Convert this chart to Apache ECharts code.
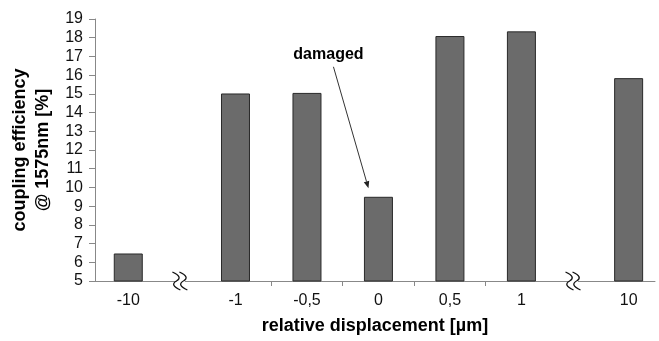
<!DOCTYPE html>
<html>
<head>
<meta charset="utf-8">
<script src="https://cdn.jsdelivr.net/npm/echarts@6/dist/echarts.min.js"></script>
<style>html,body{margin:0;padding:0;background:#fff}#c{width:659px;height:341px}</style>
</head>
<body>
<div id="c"></div>
<script>
// ---- data ----
const categories = ['-10', '-1', '-0,5', '0', '0,5', '1', '10'];
const efficiency = [6.47, 15.02, 15.05, 9.5, 18.09, 18.34, 15.84];
const yMin = 5, yMax = 19, yStep = 1;
// blank slots placed after each category (layout of the axis)
const spacersAfter = [2, 1, 1, 1, 1, 2, 0];
const annotationText = 'damaged';
const annotatedCategory = '0';

// ---- build slot axis ----
const slotLabels = [], slotValues = [];
categories.forEach((c, i) => {
  slotLabels.push(c); slotValues.push(efficiency[i]);
  for (let k = 0; k < spacersAfter[i]; k++) { slotLabels.push(''); slotValues.push(null); }
});
const isTickSlot = i => slotLabels[i] === '' && i > 0 && i < slotLabels.length - 1 &&
  slotLabels[i - 1] !== '' && slotLabels[i + 1] !== '';

const FONT = 'Liberation Sans, Arial, sans-serif';
const AX = '#888';
const chart = echarts.init(document.getElementById('c'), null, {renderer: 'canvas'});
chart.setOption({
  animation: false,
  grid: [
    {left: 95, right: 4, top: 19, bottom: 60},
    {left: 110.4, right: 12.5, top: 19, bottom: 60}
  ],
  xAxis: [
    {gridIndex: 0, type: 'value', min: 0, max: 1,
     axisLine: {show: true, lineStyle: {color: AX, width: 1}},
     axisTick: {show: false}, axisLabel: {show: false}, splitLine: {show: false},
     name: 'relative displacement [µm]', nameLocation: 'middle', nameGap: 36,
     nameTextStyle: {fontFamily: FONT, fontSize: 18, fontWeight: 'bold', color: '#000'}},
    {gridIndex: 1, type: 'category', data: slotLabels, boundaryGap: true,
     axisLine: {show: false},
     axisTick: {show: true, alignWithLabel: true, length: 5, interval: (i) => isTickSlot(i),
                lineStyle: {color: AX}},
     axisLabel: {interval: 0, margin: 12, fontFamily: FONT, fontSize: 16, color: '#111'},
     splitLine: {show: false}}
  ],
  yAxis: [
    {gridIndex: 0, type: 'value', min: yMin, max: yMax, interval: yStep,
     axisLine: {show: true, lineStyle: {color: AX, width: 1}},
     axisTick: {show: true, length: 6, lineStyle: {color: AX}},
     axisLabel: {margin: 12, fontFamily: FONT, fontSize: 16, color: '#111'},
     splitLine: {show: false},
     name: 'coupling efficiency\n@ 1575nm [%]', nameLocation: 'middle', nameGap: 40, nameRotate: 90,
     nameTextStyle: {fontFamily: FONT, fontSize: 18, fontWeight: 'bold', color: '#000', lineHeight: 23}},
    {gridIndex: 1, type: 'value', min: yMin, max: yMax, interval: yStep, show: false}
  ],
  series: [{
    type: 'bar', xAxisIndex: 1, yAxisIndex: 1, data: slotValues, barWidth: 29,
    itemStyle: {color: '#6b6b6b', borderColor: '#2a2a2a', borderWidth: 1}
  }]
});

// ---- decorations: axis breaks and annotation ----
function px(idx, val) { return chart.convertToPixel({seriesIndex: 0}, [idx, val]); }
const baseY = px(0, yMin)[1];
const graphics = [];
function addBreak(cx) {
  graphics.push({type: 'rect', shape: {x: cx - 3, y: baseY - 2, width: 8, height: 4},
                 style: {fill: '#fff'}, z: 100});
  [-3, 4].forEach(dx => {
    const x0 = cx + dx - 0.5, y0 = baseY;
    graphics.push({type: 'bezierCurve', shape: {x1: x0 - 4, y1: y0 - 9, cpx1: x0 + 7, cpy1: y0 - 4, x2: x0, y2: y0},
                   style: {fill: null, stroke: '#111', lineWidth: 1.3}, z: 101});
    graphics.push({type: 'bezierCurve', shape: {x1: x0, y1: y0, cpx1: x0 - 7, cpy1: y0 + 4, x2: x0 + 4, y2: y0 + 9},
                   style: {fill: null, stroke: '#111', lineWidth: 1.3}, z: 101});
  });
}
let pos = 0; const slotIdx = [];
categories.forEach((c, i) => { slotIdx.push(pos); pos += 1 + spacersAfter[i]; });
categories.forEach((c, i) => {
  if (spacersAfter[i] >= 2) {
    const a = px(slotIdx[i], yMin)[0], b = px(slotIdx[i + 1], yMin)[0];
    addBreak((a + b) / 2 - 2);
  }
});
// annotation arrow to the damaged sample
const ai = categories.indexOf(annotatedCategory);
const anchorPt = px(slotIdx[ai], efficiency[ai]);
const arrowEnd = [anchorPt[0] - 10, anchorPt[1] - 8.5];
const arrowStart = [anchorPt[0] - 45, anchorPt[1] - 130];
const adx = arrowEnd[0] - arrowStart[0], ady = arrowEnd[1] - arrowStart[1];
const aL = Math.hypot(adx, ady), ux = adx / aL, uy = ady / aL;
const hl = 7, hw = 2.8;
const bx = arrowEnd[0] - ux * hl, by = arrowEnd[1] - uy * hl;
graphics.push({type: 'line', shape: {x1: arrowStart[0], y1: arrowStart[1], x2: bx, y2: by},
               style: {stroke: '#333', lineWidth: 1}, z: 100});
graphics.push({type: 'polygon', shape: {points: [arrowEnd, [bx - uy * hw, by + ux * hw], [bx + uy * hw, by - ux * hw]]},
               style: {fill: '#222'}, z: 100});
graphics.push({type: 'text', x: anchorPt[0] - 50, y: anchorPt[1] - 142,
               style: {text: annotationText, font: 'bold 16px ' + FONT, fill: '#000',
                       textAlign: 'center', textVerticalAlign: 'middle'}, z: 100});
chart.setOption({graphic: graphics});
</script>
</body>
</html>
